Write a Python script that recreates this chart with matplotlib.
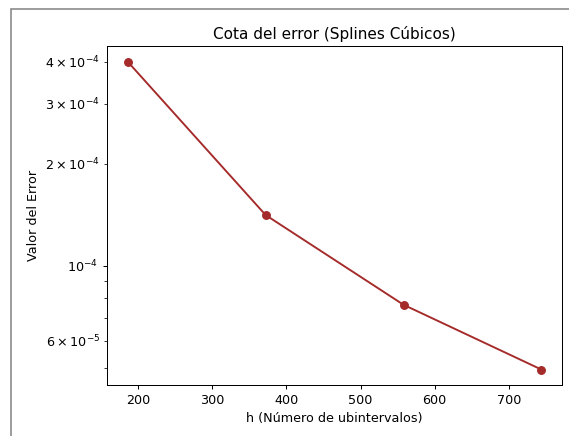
import matplotlib
matplotlib.use('Agg')
import matplotlib.pyplot as plt
from matplotlib.patches import Rectangle
from matplotlib.ticker import FuncFormatter
import numpy as np

# Data
h_values = [186, 372, 558, 744]
error_bound = [4.0e-4, 1.41e-4, 7.66e-5, 4.93e-5]
labelled_mantissas = [2, 3, 4, 6]


def minor_label(v, pos):
    exp = int(np.floor(np.log10(v) + 1e-9))
    mant = int(round(v / 10.0 ** exp))
    if mant in labelled_mantissas:
        return r'$\mathdefault{%d\times10^{%d}}$' % (mant, exp)
    return ''


dpi = 91.5
fig = plt.figure(figsize=(569 / dpi, 436 / dpi), dpi=dpi)
ax = fig.add_axes([0.188, 0.117, 0.800, 0.777])

ax.plot(h_values, error_bound, marker='o', color='#a52a2a')
ax.set_yscale('log')
ax.yaxis.set_minor_formatter(FuncFormatter(minor_label))

ax.set_title('Cota del error (Splines Cúbicos)')
ax.set_xlabel('h (Número de ubintervalos)')
ax.set_ylabel('Valor del Error')

# gray frame around the (cropped) figure
fig.patches.append(Rectangle((11 / 569, -0.1), 1.2, 1 - 9 / 436 + 0.1,
                             transform=fig.transFigure, fill=False,
                             edgecolor='#808080', linewidth=1.2))

fig.savefig('out.png', dpi=dpi)
